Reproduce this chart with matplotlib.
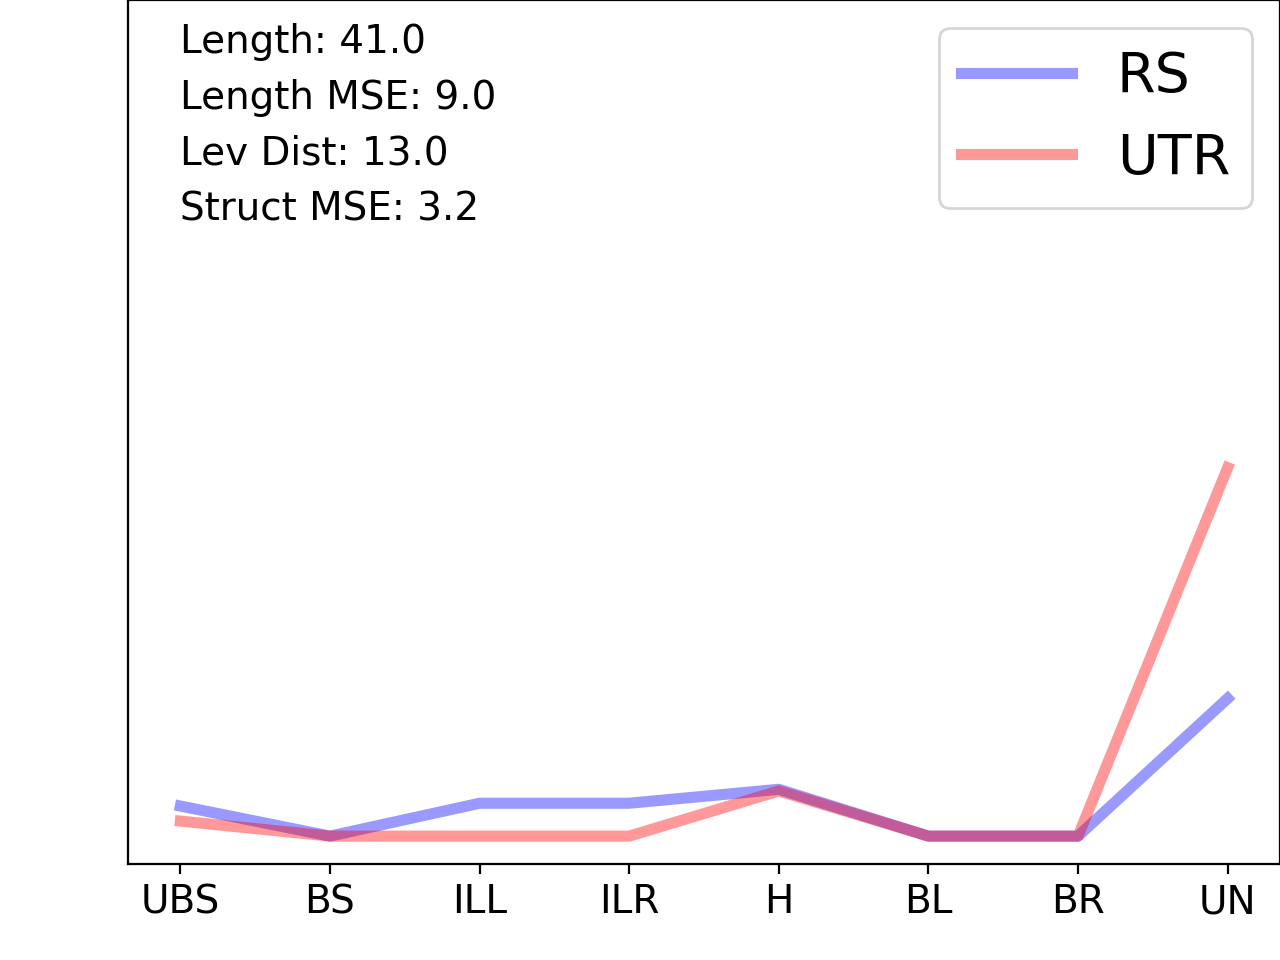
import numpy as np
import matplotlib
matplotlib.use('Agg')
import matplotlib.pyplot as plt

# categories along the x axis
labels = ['UBS', 'BS', 'ILL', 'ILR', 'H', 'BL', 'BR', 'UN']

# values
rs = [0.054, 0.0, 0.059, 0.059, 0.084, 0.0, 0.0, 0.247]
utr = [0.027, 0.0, 0.0, 0.0, 0.081, 0.0, 0.0, 0.661]

# summary numbers in the top left corner
length = 41.0
length_mse = 9.0
lev_dist = 13.0
struct_mse = 3.2

fig = plt.figure(figsize=(6.4, 4.8), dpi=200)
ax = fig.add_axes([0.1, 0.1, 0.9, 0.9])

x = np.arange(len(labels))
ax.plot(x, rs, color='b', alpha=0.4, linewidth=4, label='RS')
ax.plot(x, utr, color='r', alpha=0.4, linewidth=4, label='UTR')

ax.set_ylim(-0.05, 1.5)
ax.set_yticks([])
ax.set_xticks(x)
ax.set_xticklabels(labels, fontsize=14)

info = "Length: %.1f\nLength MSE: %.1f\nLev Dist: %.1f\nStruct MSE: %.1f" % (
    length, length_mse, lev_dist, struct_mse)
ax.text(0, 1.459, info, fontsize=14, va='top', ha='left', linespacing=1.6)

ax.legend(loc='upper right', fontsize=20)

fig.savefig('out.png', dpi=200)
